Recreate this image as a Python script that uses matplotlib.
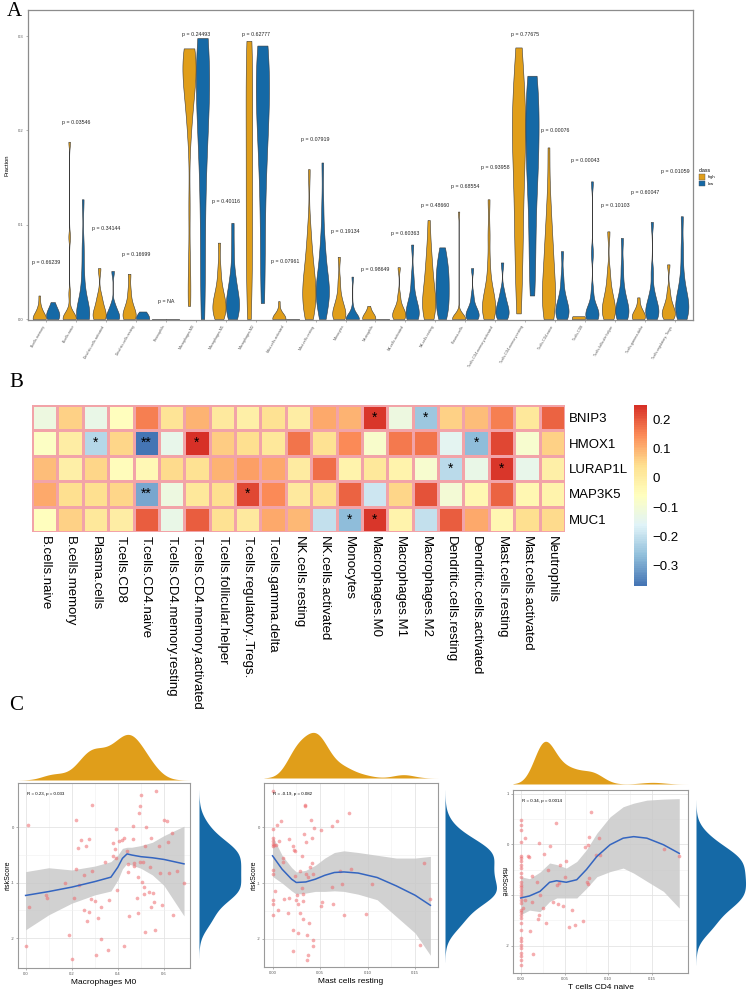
import numpy as np
import matplotlib
matplotlib.use("Agg")
import matplotlib.pyplot as plt
from matplotlib import mlab
from matplotlib.colors import LinearSegmentedColormap
from matplotlib.patches import Patch

plt.rcParams["font.family"] = ["Liberation Sans", "DejaVu Sans"]

# ---------------- panel A: violin data (Fraction) ----------------
cell_types = ["B.cells.memory", "B.cells.naive", "Dendritic.cells.activated",
              "Dendritic.cells.resting", "Eosinophils", "Macrophages.M0",
              "Macrophages.M1", "Macrophages.M2", "Mast.cells.activated",
              "Mast.cells.resting", "Monocytes", "Neutrophils",
              "NK.cells.activated", "NK.cells.resting", "Plasma.cells",
              "T.cells.CD4.memory.activated", "T.cells.CD4.memory.resting",
              "T.cells.CD4.naive", "T.cells.CD8", "T.cells.follicular.helper",
              "T.cells.gamma.delta", "T.cells.regulatory..Tregs."]
p_labels = ["0.66239", "0.03546", "0.34144", "0.16699", "NA", "0.24493", "0.40116",
            "0.62777", "0.07961", "0.07919", "0.19134", "0.98649", "0.60363",
            "0.48660", "0.68554", "0.93958", "0.77675", "0.00076", "0.00043",
            "0.10103", "0.60047", "0.01059"]
p_label_y = [0.060, 0.208, 0.0965, 0.068, 0.019, 0.302, 0.125, 0.302, 0.0615, 0.190,
             0.093, 0.053, 0.091, 0.120, 0.141, 0.161, 0.302, 0.200, 0.168, 0.120,
             0.134, 0.156]

high_vals = [
    [0, 0, 0, 0, 0, 0, 0, 0.002, 0.005, 0.01, 0.012, 0.025],
    [0, 0, 0, 0, 0, 0, 0.002, 0.005, 0.01, 0.027, 0.087, 0.188],
    [0, 0, 0.002, 0.005, 0.008, 0.012, 0.018, 0.025, 0.054],
    [0, 0, 0.002, 0.005, 0.008, 0.012, 0.018, 0.03, 0.048],
    [0, 0, 0, 0, 0, 0],
    [0.014, 0.03, 0.06, 0.12, 0.19, 0.21, 0.22, 0.23, 0.24, 0.245, 0.25, 0.255,
     0.26, 0.265, 0.27, 0.275, 0.28, 0.283, 0.285, 0.287, 0.287],
    [0, 0.003, 0.006, 0.01, 0.013, 0.017, 0.02, 0.025, 0.03, 0.04, 0.055, 0.081],
    [0, 0.02, 0.04, 0.06, 0.08, 0.1, 0.12, 0.14, 0.16, 0.18, 0.2, 0.22, 0.24,
     0.26, 0.28, 0.29, 0.295],
    [0, 0, 0, 0, 0, 0, 0.001, 0.002, 0.004, 0.019],
    [0, 0.005, 0.01, 0.015, 0.02, 0.025, 0.03, 0.035, 0.04, 0.045, 0.05, 0.06,
     0.07, 0.08, 0.1, 0.159],
    [0, 0, 0.002, 0.004, 0.007, 0.01, 0.013, 0.018, 0.025, 0.04, 0.066],
    [0, 0, 0, 0, 0.001, 0.002, 0.004, 0.014],
    [0, 0, 0.002, 0.004, 0.006, 0.008, 0.011, 0.015, 0.025, 0.055],
    [0, 0.003, 0.006, 0.01, 0.014, 0.018, 0.022, 0.027, 0.033, 0.04, 0.048,
     0.057, 0.067, 0.08, 0.105],
    [0, 0, 0, 0, 0, 0, 0, 0, 0.001, 0.003, 0.114],
    [0, 0.002, 0.005, 0.008, 0.012, 0.016, 0.02, 0.025, 0.03, 0.04, 0.06, 0.09, 0.127],
    [0.006, 0.03, 0.06, 0.08, 0.1, 0.12, 0.14, 0.16, 0.18, 0.19, 0.2, 0.21, 0.22,
     0.23, 0.25, 0.27, 0.288],
    [0, 0.005, 0.01, 0.015, 0.02, 0.025, 0.03, 0.04, 0.05, 0.06, 0.07, 0.08, 0.09,
     0.11, 0.13, 0.182],
    [0, 0, 0, 0, 0, 0.001, 0.003],
    [0, 0.002, 0.005, 0.008, 0.012, 0.016, 0.02, 0.026, 0.035, 0.05, 0.093],
    [0, 0, 0.001, 0.002, 0.003, 0.005, 0.008, 0.012, 0.023],
    [0, 0.002, 0.004, 0.006, 0.008, 0.011, 0.015, 0.02, 0.03, 0.058],
]
low_vals = [
    [0, 0, 0.001, 0.002, 0.004, 0.006, 0.008, 0.01, 0.012, 0.018],
    [0, 0, 0, 0.002, 0.005, 0.008, 0.012, 0.02, 0.03, 0.05, 0.077, 0.127],
    [0, 0, 0.001, 0.003, 0.006, 0.01, 0.015, 0.051],
    [0, 0, 0, 0, 0.001, 0.002, 0.008],
    [0, 0, 0, 0, 0, 0],
    [0, 0.02, 0.05, 0.08, 0.11, 0.14, 0.16, 0.18, 0.2, 0.21, 0.22, 0.23, 0.24,
     0.25, 0.26, 0.27, 0.28, 0.29, 0.295, 0.298, 0.298],
    [0, 0.004, 0.008, 0.012, 0.016, 0.02, 0.025, 0.03, 0.04, 0.05, 0.075, 0.102],
    [0.017, 0.04, 0.07, 0.1, 0.13, 0.15, 0.17, 0.19, 0.2, 0.21, 0.22, 0.23, 0.24,
     0.25, 0.26, 0.27, 0.28, 0.285, 0.29, 0.29],
    [0, 0, 0, 0, 0, 0],
    [0, 0.008, 0.015, 0.02, 0.025, 0.028, 0.032, 0.035, 0.04, 0.045, 0.055, 0.065,
     0.075, 0.09, 0.12, 0.166],
    [0, 0, 0, 0, 0, 0, 0, 0.001, 0.01, 0.045],
    [0, 0, 0, 0, 0, 0],
    [0, 0, 0.002, 0.005, 0.008, 0.012, 0.016, 0.02, 0.03, 0.045, 0.079],
    [0, 0.005, 0.01, 0.015, 0.02, 0.025, 0.03, 0.035, 0.04, 0.045, 0.05, 0.055,
     0.06, 0.068, 0.076],
    [0, 0, 0.002, 0.004, 0.006, 0.008, 0.011, 0.015, 0.025, 0.054],
    [0, 0.002, 0.004, 0.007, 0.01, 0.013, 0.017, 0.022, 0.03, 0.06],
    [0.025, 0.04, 0.06, 0.08, 0.1, 0.12, 0.14, 0.15, 0.16, 0.17, 0.18, 0.19, 0.2,
     0.21, 0.22, 0.23, 0.24, 0.25, 0.255, 0.258],
    [0, 0.002, 0.004, 0.007, 0.01, 0.013, 0.017, 0.022, 0.03, 0.045, 0.072],
    [0, 0, 0.002, 0.004, 0.006, 0.008, 0.011, 0.015, 0.03, 0.07, 0.146],
    [0, 0.002, 0.004, 0.007, 0.01, 0.014, 0.018, 0.024, 0.035, 0.055, 0.086],
    [0, 0.002, 0.004, 0.007, 0.01, 0.013, 0.017, 0.022, 0.03, 0.05, 0.103],
    [0, 0.003, 0.006, 0.01, 0.014, 0.018, 0.022, 0.027, 0.035, 0.05, 0.075, 0.109],
]

# ---------------- panel B: correlation heatmap ----------------
heat_cols = ["B.cells.naive", "B.cells.memory", "Plasma.cells", "T.cells.CD8",
             "T.cells.CD4.naive", "T.cells.CD4.memory.resting",
             "T.cells.CD4.memory.activated", "T.cells.follicular.helper",
             "T.cells.regulatory..Tregs.", "T.cells.gamma.delta", "NK.cells.resting",
             "NK.cells.activated", "Monocytes", "Macrophages.M0", "Macrophages.M1",
             "Macrophages.M2", "Dendritic.cells.resting", "Dendritic.cells.activated",
             "Mast.cells.resting", "Mast.cells.activated", "Neutrophils"]
heat_rows = ["BNIP3", "HMOX1", "LURAP1L", "MAP3K5", "MUC1"]
bnip3 = [-0.12, 0.06, -0.13, -0.06, 0.16, 0.03, 0.10, 0.01, -0.01, 0.035, 0.0,
         0.11, 0.10, 0.24, -0.12, -0.25, 0.06, 0.085, 0.16, 0.02, 0.19]
hmox1 = [-0.07, 0.0, -0.22, 0.055, -0.37, -0.14, 0.25, 0.07, 0.04, 0.02, 0.17,
         0.035, 0.15, -0.08, 0.165, 0.17, -0.15, -0.27, 0.22, -0.09, 0.06]
lurap1l = [0.085, -0.01, 0.055, -0.05, -0.04, 0.05, 0.035, 0.10, 0.125, 0.11, 0.005,
           0.18, -0.02, 0.02, -0.02, -0.09, -0.21, -0.13, 0.24, -0.14, -0.01]
map3k5 = [0.11, 0.04, 0.04, 0.055, -0.30, -0.12, 0.02, 0.045, 0.22, 0.15, 0.01,
          0.04, 0.19, -0.19, 0.055, 0.21, -0.10, -0.03, 0.19, -0.03, -0.02]
muc1 = [-0.06, 0.06, 0.02, 0.0, 0.20, -0.13, 0.20, 0.035, 0.01, 0.11, 0.09,
        -0.20, -0.27, 0.24, -0.02, -0.20, 0.20, 0.11, -0.03, 0.04, 0.05]
stars_bnip3 = {13: "*", 15: "*"}
stars_hmox1 = {2: "*", 4: "**", 6: "*", 17: "*"}
stars_lurap1l = {16: "*", 18: "*"}
stars_map3k5 = {4: "**", 8: "*"}
stars_muc1 = {12: "*", 13: "*"}

# ---------------- panel C: scatter data ----------------
m0_x = [0.01, 0.013, 0.0, 0.09, 0.094, 0.17, 0.19, 0.2, 0.21, 0.217, 0.22, 0.227,
        0.23, 0.242, 0.252, 0.254, 0.264, 0.267, 0.275, 0.275, 0.282, 0.287, 0.29,
        0.303, 0.307, 0.313, 0.325, 0.326, 0.346, 0.358, 0.36, 0.38, 0.38, 0.387,
        0.39, 0.394, 0.397, 0.406, 0.416, 0.426, 0.428, 0.438, 0.445, 0.445, 0.448,
        0.464, 0.467, 0.471, 0.472, 0.484, 0.486, 0.488, 0.49, 0.496, 0.496, 0.501,
        0.503, 0.507, 0.513, 0.515, 0.516, 0.517, 0.52, 0.536, 0.539, 0.542, 0.546,
        0.553, 0.557, 0.561, 0.564, 0.577, 0.583, 0.59, 0.6, 0.612, 0.616, 0.623,
        0.633, 0.64, 0.658, 0.687]
m0_y = [0.04, -1.43, -2.15, -1.22, -1.28, -1.0, -1.95, -2.38, -1.28, -0.75, 0.14,
        -0.37, -1.05, -0.23, -1.49, -0.86, -0.33, -1.7, -0.21, -1.52, -1.3, -0.78,
        0.41, -1.33, -2.3, -1.64, -1.43, -2.02, -0.63, -2.22, -1.32, -0.28, -0.51,
        -0.39, -0.55, -0.03, -1.13, -0.25, -0.23, -0.2, -2.14, -0.43, -0.8, -0.66,
        -1.6, -0.22, 0.03, -0.64, -0.7, -1.28, -0.89, -1.55, 0.26, 0.38, -0.63, 0.59,
        -0.98, -0.63, -1.07, -1.2, -0.33, -1.89, 0.0, -1.17, -0.72, -0.19, -1.43,
        -1.19, -1.35, -1.85, 0.65, -0.33, -0.83, -1.4, 0.14, 0.11, -0.27, -0.83,
        -0.11, -1.58, -0.78, -1.0]
m0_fit_x = [0, 0.1, 0.2, 0.3, 0.37, 0.4, 0.42, 0.44, 0.46, 0.5, 0.55, 0.6, 0.687]
m0_fit = [-1.23, -1.16, -1.08, -0.98, -0.9, -0.72, -0.56, -0.48, -0.5, -0.53, -0.55,
          -0.58, -0.66]
m0_hi = [-0.8, -0.73, -0.77, -0.7, -0.62, -0.5, -0.38, -0.36, -0.36, -0.33, -0.27,
         -0.15, 0.02]
m0_lo = [-1.85, -1.58, -1.37, -1.22, -1.15, -0.95, -0.75, -0.65, -0.68, -0.74, -0.86,
         -1.05, -1.6]

mast_x = [0, 0, 0, 0, 0, 0, 0, 0, 0, 0, 0, 0.002, 0.003, 0.004, 0.005, 0.006, 0.007,
          0.009, 0.0105, 0.011, 0.012, 0.016, 0.017, 0.017, 0.021, 0.021, 0.022,
          0.023, 0.024, 0.024, 0.025, 0.026, 0.027, 0.027, 0.029, 0.029, 0.031, 0.031,
          0.032, 0.032, 0.032, 0.033, 0.034, 0.034, 0.035, 0.035, 0.036, 0.036, 0.037,
          0.037, 0.038, 0.039, 0.04, 0.041, 0.042, 0.043, 0.043, 0.043, 0.044, 0.051,
          0.051, 0.052, 0.062, 0.063, 0.064, 0.068, 0.071, 0.073, 0.075, 0.08, 0.083,
          0.098, 0.105, 0.155, 0.159, 0.166]
mast_y = [0.65, -0.03, -0.19, -0.25, -0.29, -0.34, -0.77, -0.83, -1.31, -1.38, -1.58,
          -0.31, -1.14, -0.31, 0.04, -1.48, -0.25, 0.11, -0.55, -0.63, -1.28, -1.54,
          -0.21, -1.26, -1.85, -2.22, -0.34, -0.4, -0.43, -0.87, -1.3, -1.21, -1.37,
          -1.9, -1.54, -0.78, -1.08, -0.51, -1.32, -1.64, -1.2, -0.11, 0.41, 0.38,
          -0.27, -0.84, -1.94, -2.38, -0.89, -2.29, -1.71, -0.72, 0.14, -0.19, -0.64,
          -0.83, -2.03, -2.14, -0.01, -0.05, -1.41, -1.34, 0.03, -1.07, -1.38, 0.12,
          -0.78, -1.01, -1.58, 0.26, -0.75, -1.55, -1.01, -2.12, -0.64, -1.28]
mast_fit_x = [0, 0.01, 0.02, 0.025, 0.035, 0.045, 0.055, 0.065, 0.075, 0.09, 0.11,
              0.13, 0.15, 0.166]
mast_fit = [-0.51, -0.75, -0.93, -0.99, -0.98, -0.93, -0.86, -0.81, -0.8, -0.82, -0.9,
            -1.05, -1.22, -1.4]
mast_hi = [-0.16, -0.5, -0.72, -0.8, -0.77, -0.68, -0.55, -0.45, -0.42, -0.45, -0.5,
           -0.55, -0.55, -0.52]
mast_lo = [-0.88, -1.0, -1.14, -1.2, -1.18, -1.15, -1.15, -1.14, -1.15, -1.2, -1.3,
           -1.6, -1.9, -2.3]

cd4_x = [0] * 33 + [0.003, 0.005, 0.005, 0.008, 0.009, 0.011, 0.013, 0.013, 0.014,
                    0.019, 0.02, 0.021, 0.021, 0.022, 0.026, 0.027, 0.029, 0.031,
                    0.034, 0.037, 0.04, 0.042, 0.043, 0.044, 0.045, 0.048, 0.051,
                    0.052, 0.055, 0.059, 0.062, 0.071, 0.073, 0.076, 0.077, 0.077,
                    0.078, 0.078, 0.08, 0.086, 0.089, 0.09, 0.164, 0.181]
cd4_y = [0.48, 0.38, 0.28, 0.05, -0.24, -0.28, -0.34, -0.41, -0.47, -0.57, -0.65,
         -0.74, -0.8, -0.85, -0.9, -0.96, -1.03, -1.1, -1.16, -1.29, -1.34, -1.39,
         -1.46, -1.56, -1.69, -1.85, -1.91, -1.98, -2.05, -2.14, -2.21, -2.28, -2.39,
         -1.26, 0.12, -1.1, -0.24, -0.26, -1.72, -0.62, -1.13, -2.16, -0.75, -1.48,
         -1.39, 0.03, -1.0, -1.26, -0.2, -1.55, -0.5, -0.03, -1.13, 0.41, -0.8, -1.17,
         -0.77, -0.41, -1.21, -0.64, -0.34, -1.63, -1.3, -1.59, -1.52, -0.06, -0.75,
         -0.01, -0.79, 0.14, -0.67, 0.64, -0.21, 0.12, -0.22, -0.1, -0.24]
cd4_fit_x = [0, 0.01, 0.022, 0.033, 0.041, 0.052, 0.064, 0.075, 0.087, 0.102, 0.117,
             0.129, 0.144, 0.163, 0.181]
cd4_fit = [-1.06, -1.02, -0.93, -0.75, -0.72, -0.75, -0.7, -0.5, -0.24, -0.01, 0.12,
           0.15, 0.12, -0.01, -0.18]
cd4_hi = [-0.64, -0.68, -0.55, -0.37, -0.4, -0.47, -0.34, -0.11, 0.22, 0.54, 0.74,
          0.81, 0.87, 0.89, 0.9]
cd4_lo = [-1.39, -1.3, -1.33, -1.13, -1.06, -1.06, -1.06, -0.87, -0.64, -0.54, -0.47,
          -0.57, -0.73, -0.93, -1.26]

ORANGE = "#E09E1A"
BLUE = "#1569A6"

W, H = 748, 991
fig = plt.figure(figsize=(W / 100, H / 100), dpi=100)


def box(x0, y0, x1, y1):
    return fig.add_axes([x0 / W, 1 - y1 / H, (x1 - x0) / W, (y1 - y0) / H])


def nrd0_h(d):
    d = np.asarray(d, float).ravel()
    sd = d.std(ddof=1)
    q75, q25 = np.percentile(d, [75, 25])
    lo = min(sd, (q75 - q25) / 1.34)
    if lo <= 0:
        lo = sd
    return 0.9 * lo * len(d) ** -0.2


def violin_bw(kde):
    d = np.asarray(kde.dataset).ravel()
    return max(nrd0_h(d), 0.0055) / d.std(ddof=1)


def violin(ax, vals, pos, width, color):
    vals = np.asarray(vals, float)
    if np.ptp(vals) == 0:
        ax.plot([pos - width / 2, pos + width / 2], [vals[0]] * 2, color="#555555", lw=0.6)
        return
    parts = ax.violinplot([vals], positions=[pos], widths=width, showextrema=False,
                          bw_method=violin_bw, points=300)
    for b in parts["bodies"]:
        b.set_facecolor(color)
        b.set_edgecolor("#3a3a3a")
        b.set_linewidth(0.4)
        b.set_alpha(1)


def panel_letter(x, y, s):
    fig.text(x / W, 1 - y / H, s, family="Liberation Serif", fontsize=15,
             ha="left", va="center")


# ---------------- A ----------------
axA = box(28, 10, 693, 320)
narrow = {"Macrophages.M2": 0.5}
for i, name in enumerate(cell_types):
    violin(axA, high_vals[i], i + 1 - 0.225, 0.44 * narrow.get(name, 1), ORANGE)
    violin(axA, low_vals[i], i + 1 + 0.225, 0.44, BLUE)
    axA.text(i + 1, p_label_y[i], "p = " + p_labels[i], ha="center", va="center",
             fontsize=3.8, color="#222222")
axA.set_xlim(0.4, 22.6)
axA.set_ylim(-0.001, 0.3277)
axA.set_xticks(range(1, 23))
axA.set_xticklabels(cell_types, rotation=60, ha="right", fontsize=2.6, color="#555555")
axA.set_yticks([0, 0.1, 0.2, 0.3])
axA.set_yticklabels(["0.0", "0.1", "0.2", "0.3"], fontsize=3, color="#555555")
axA.tick_params(length=1.5, width=0.4, color="#777777", pad=1.5)
axA.set_ylabel("Fraction", fontsize=4.2, labelpad=6)
for s in axA.spines.values():
    s.set_color("#8c8c8c")
    s.set_linewidth(0.9)
leg = axA.legend(handles=[Patch(facecolor=ORANGE, edgecolor="#555555", lw=0.3, label="high"),
                          Patch(facecolor=BLUE, edgecolor="#555555", lw=0.3, label="low")],
                 title="class", loc="center left", bbox_to_anchor=(1.003, 0.46),
                 frameon=False, fontsize=3, title_fontsize=3.8, handlelength=1.6,
                 handleheight=1.8, handletextpad=0.5, labelspacing=0.15)
leg._legend_box.align = "left"
panel_letter(7, 12, "A")

# ---------------- B ----------------
heat = np.array([bnip3, hmox1, lurap1l, map3k5, muc1])
stars = [stars_bnip3, stars_hmox1, stars_lurap1l, stars_map3k5, stars_muc1]
cmap = LinearSegmentedColormap.from_list(
    "rdylbu", ["#4575B4", "#91BFDB", "#E0F3F8", "#FFFFBF", "#FEE090", "#FC8D59", "#D73027"], N=100)
axB = box(32, 405, 565, 532)
mesh = axB.pcolormesh(heat, cmap=cmap, vmin=heat.min(), vmax=heat.max(),
                      edgecolors="#F2A3A8", linewidth=0.8)
for r, row in enumerate(stars):
    for c, s in row.items():
        axB.text(c + 0.5, r + 0.5, s, ha="center", va="center", fontsize=10)
axB.set_xlim(0, 21)
axB.set_ylim(5, 0)
axB.set_xticks(np.arange(21) + 0.5)
axB.set_xticklabels(heat_cols, rotation=270, ha="center", va="top", fontsize=9.5)
axB.yaxis.tick_right()
axB.set_yticks(np.arange(5) + 0.5)
axB.set_yticklabels(heat_rows, fontsize=9.5)
axB.tick_params(length=0, pad=3)
for s in axB.spines.values():
    s.set_visible(False)
cax = box(634, 405, 647, 586)
cb = fig.colorbar(mesh, cax=cax, ticks=[0.2, 0.1, 0, -0.1, -0.2, -0.3])
cb.ax.set_yticklabels(["0.2", "0.1", "0", "\u22120.1", "\u22120.2", "\u22120.3"])
cb.outline.set_visible(False)
cb.ax.tick_params(length=0, labelsize=9.5, pad=4)
panel_letter(9, 383, "B")


# ---------------- C ----------------
def marginal(vals):
    # smooth density drawn over its own range (data +/- 3 bw), like ggMarginal
    vals = np.asarray(vals, float)
    kde = mlab.GaussianKDE(vals, "scott")
    h = kde.factor * vals.std(ddof=1)
    grid = np.linspace(vals.min() - 3 * h, vals.max() + 3 * h, 400)
    return grid, kde.evaluate(grid)


def scatter_panel(rects, x, y, fx, fy, flo, fhi, xlim, ylim, xticks, xtl, yticks,
                  xlabel, note, ylab_rot=90):
    r_main, r_top, r_right = rects
    ax = box(*r_main)
    ax.set_axisbelow(True)
    ax.fill_between(fx, flo, fhi, color="#C9C9C9", alpha=0.85, lw=0)
    ax.scatter(x, y, s=7, color="#EE6A6E", alpha=0.55, lw=0)
    ax.plot(fx, fy, color="#3465C0", lw=1.1)
    ax.set_xlim(*xlim)
    ax.set_ylim(*ylim)
    ax.set_xticks(xticks)
    ax.set_xticklabels(xtl, fontsize=3, color="#555555")
    ax.set_yticks(yticks)
    ax.set_yticklabels([str(v) for v in yticks], fontsize=3, color="#555555")
    ax.set_xticks([(a + b) / 2 for a, b in zip(xticks[:-1], xticks[1:])], minor=True)
    ax.set_yticks([(a + b) / 2 for a, b in zip(yticks[:-1], yticks[1:])], minor=True)
    ax.grid(True, which="major", color="#E4E4E4", lw=0.6)
    ax.grid(True, which="minor", color="#F0F0F0", lw=0.4)
    ax.tick_params(which="both", length=1.2, width=0.4, color="#777777", pad=1.5)
    ax.tick_params(which="minor", length=0)
    for s in ax.spines.values():
        s.set_color("#9a9a9a")
        s.set_linewidth(0.8)
    ax.set_xlabel(xlabel, fontsize=6, labelpad=2)
    ax.set_ylabel("riskScore", fontsize=5, labelpad=2, rotation=ylab_rot, va="center")
    ax.text(0.05, 0.94, note, transform=ax.transAxes, fontsize=3.2, ha="left", va="center")

    axt = box(*r_top)
    gx, dx = marginal(x)
    axt.fill_between(gx, 0, dx, color=ORANGE, lw=0)
    axt.set_xlim(gx[0], gx[-1])
    axt.set_ylim(0, dx.max() * 1.03)
    axt.axis("off")

    axr = box(*r_right)
    gy, dy = marginal(y)
    axr.fill_betweenx(gy, 0, dy, color=BLUE, lw=0)
    axr.set_ylim(gy[0], gy[-1])
    axr.set_xlim(0, dy.max() * 1.03)
    axr.axis("off")


scatter_panel([(18, 783, 190, 968), (18, 733, 190, 780), (199, 790, 242, 958)],
              m0_x, m0_y, m0_fit_x, m0_fit, m0_lo, m0_hi, (-0.033, 0.713), (-2.54, 0.8),
              [0, 0.2, 0.4, 0.6], ["0.0", "0.2", "0.4", "0.6"], [-2, -1, 0],
              "Macrophages M0", "R = 0.23, p = 0.033")
scatter_panel([(264, 783, 438, 967), (264, 731, 438, 778), (445, 790, 498, 962)],
              mast_x, mast_y, mast_fit_x, mast_fit, mast_lo, mast_hi, (-0.009, 0.174),
              (-2.51, 0.8), [0, 0.05, 0.10, 0.15], ["0.00", "0.05", "0.10", "0.15"],
              [-2, -1, 0], "Mast cells resting", "R = -0.19, p = 0.082")
scatter_panel([(513, 790, 688, 973), (513, 740, 688, 784), (696, 800, 747, 965)],
              cd4_x, cd4_y, cd4_fit_x, cd4_fit, cd4_lo, cd4_hi, (-0.0088, 0.191),
              (-2.54, 1.07), [0, 0.05, 0.10, 0.15], ["0.00", "0.05", "0.10", "0.15"],
              [-2, -1, 0, 1], "T cells CD4 naive", "R = 0.34, p = 0.0014", ylab_rot=270)
panel_letter(9, 705, "C")

fig.savefig("out.png", dpi=100)
